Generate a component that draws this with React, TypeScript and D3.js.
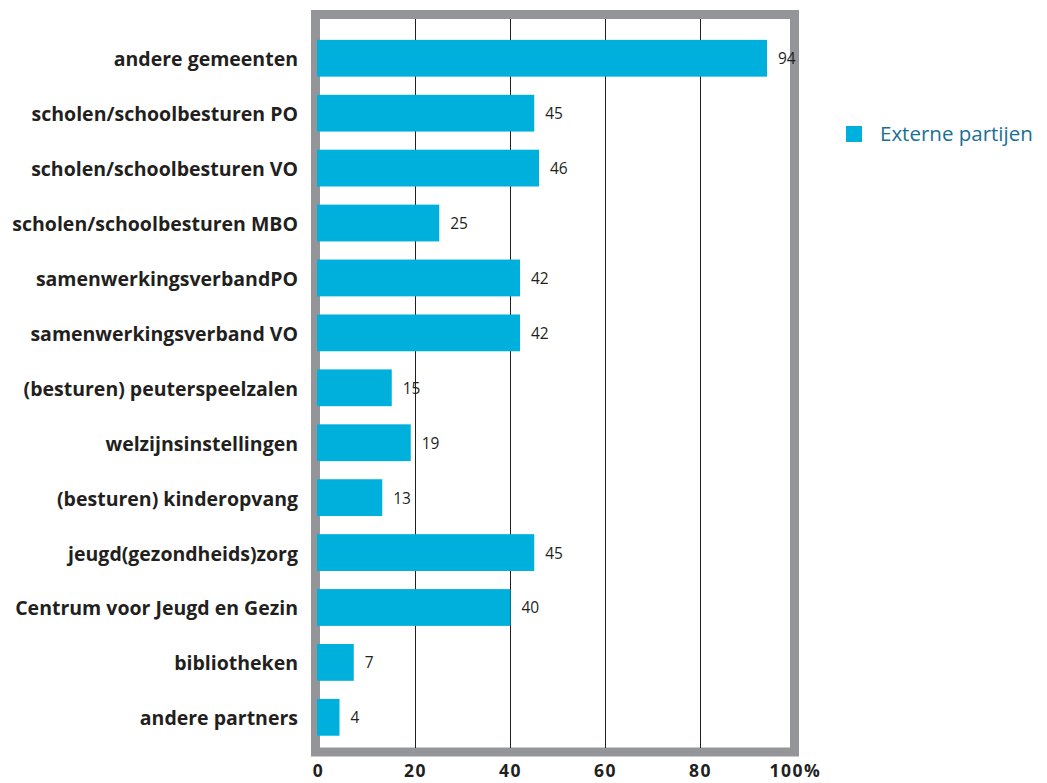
import React from "react";
import * as d3 from "d3";

const categories = [
  "andere gemeenten",
  "scholen/schoolbesturen PO",
  "scholen/schoolbesturen VO",
  "scholen/schoolbesturen MBO",
  "samenwerkingsverbandPO",
  "samenwerkingsverband VO",
  "(besturen) peuterspeelzalen",
  "welzijnsinstellingen",
  "(besturen) kinderopvang",
  "jeugd(gezondheids)zorg",
  "Centrum voor Jeugd en Gezin",
  "bibliotheken",
  "andere partners",
];
const values = [94, 45, 46, 25, 42, 42, 15, 19, 13, 45, 40, 7, 4];
const xTicks = [0, 20, 40, 60, 80, 100];
const gridTicks = [20, 40, 60, 80];
const seriesName = "Externe partijen";

const W = 1047;
const H = 783;
const BAR = "#00b0dc";
const FRAME = "#939598";
const BAR_INSET = 3.5; // bars start on the frame's left border

export default function App() {
  const x = d3.scaleLinear().domain([0, 100]).range([320.5, 795.5]);
  const y = d3
    .scaleBand<string>()
    .domain(categories)
    .range([30.8, 744.8])
    .paddingInner(0.33)
    .paddingOuter(0.165);
  const bw = y.bandwidth();

  return (
    <svg
      width={W}
      height={H}
      style={{ position: "absolute", left: 0, top: 0, background: "#fff" }}
    >
      <rect
        x={315.5}
        y={14.5}
        width={479}
        height={737.5}
        fill="none"
        stroke={FRAME}
        strokeWidth={9}
      />
      {gridTicks.map((t) => (
        <line
          key={t}
          x1={x(t)}
          x2={x(t)}
          y1={19}
          y2={748}
          stroke="#231f20"
          strokeWidth={1}
        />
      ))}
      {categories.map((c, i) => (
        <g key={c}>
          <rect
            x={x(0) - BAR_INSET}
            y={y(c)!}
            width={x(values[i]) - x(0) + BAR_INSET}
            height={bw}
            fill={BAR}
          />
          <text
            x={x(values[i]) + 11}
            y={y(c)! + bw / 2 + 6}
            fontFamily="'Open Sans', sans-serif"
            fontSize={15.5}
            fill="#231f20"
          >
            {values[i]}
          </text>
          <text
            x={298}
            y={y(c)! + bw / 2 + 8}
            textAnchor="end"
            fontFamily="'Open Sans', sans-serif"
            fontWeight={700}
            fontSize={19.5}
            fill="#231f20"
          >
            {c}
          </text>
        </g>
      ))}
      {xTicks.map((t) =>
        t === 100 ? (
          <text
            key={t}
            x={x(t) - 26}
            y={777}
            textAnchor="start"
            fontFamily="'Open Sans', sans-serif"
            fontWeight={700}
            fontSize={17.5}
            letterSpacing={1.5}
            fill="#231f20"
          >
            100%
          </text>
        ) : (
          <text
            key={t}
            x={x(t) - (t === 0 ? 2 : 0)}
            y={777}
            textAnchor="middle"
            fontFamily="'Open Sans', sans-serif"
            fontWeight={700}
            fontSize={17.5}
            letterSpacing={1.5}
            fill="#231f20"
          >
            {t}
          </text>
        )
      )}
      <rect x={846} y={126} width={16} height={16} fill={BAR} />
      <text
        x={880}
        y={141}
        fontFamily="'Open Sans', sans-serif"
        fontSize={20.5}
        fill="#1a6f95"
      >
        {seriesName}
      </text>
    </svg>
  );
}
